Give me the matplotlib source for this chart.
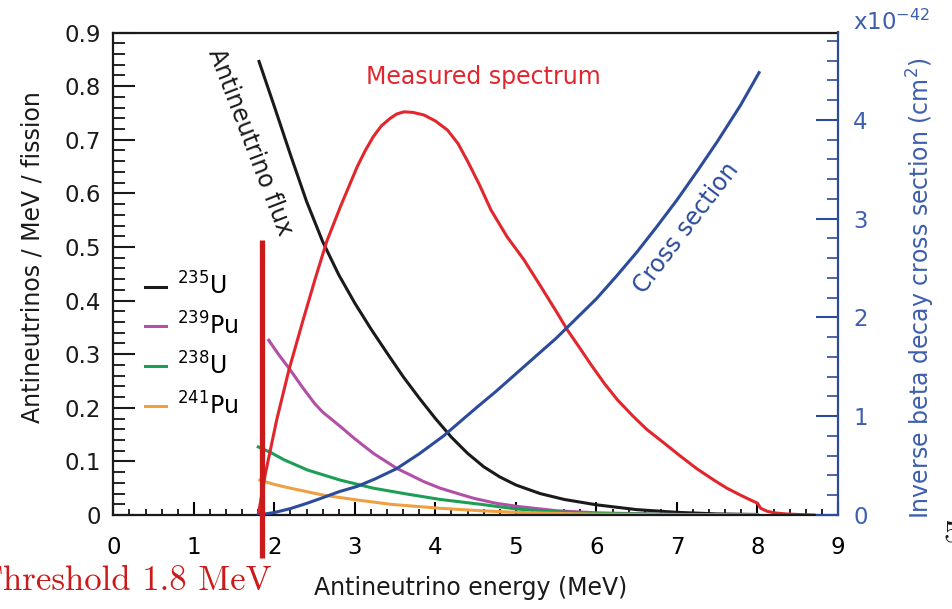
import matplotlib
matplotlib.use("Agg")
import matplotlib.pyplot as plt
from matplotlib.ticker import MultipleLocator, FuncFormatter

# ---------------- data ----------------
energy_u235 = [1.81, 2.00, 2.20, 2.40, 2.60, 2.80, 3.00, 3.20, 3.40, 3.60, 3.80, 4.00, 4.20, 4.40, 4.60, 4.80,
               5.00, 5.30, 5.60, 6.00, 6.50, 7.00, 7.50, 8.00]
flux_u235 = [0.846, 0.762, 0.672, 0.585, 0.510, 0.448, 0.395, 0.347, 0.302, 0.258, 0.218, 0.180, 0.145, 0.115,
             0.090, 0.071, 0.056, 0.040, 0.029, 0.019, 0.010, 0.005, 0.002, 0.001]

energy_pu239 = [1.93, 2.05, 2.20, 2.35, 2.50, 2.60, 2.82, 3.00, 3.23, 3.52, 3.86, 4.06, 4.30, 4.48, 4.75, 5.02,
                5.50, 6.00, 7.00, 8.00]
flux_pu239 = [0.326, 0.300, 0.270, 0.238, 0.208, 0.192, 0.165, 0.142, 0.115, 0.087, 0.062, 0.050, 0.039, 0.031,
              0.022, 0.016, 0.008, 0.004, 0.001, 0.0]

energy_u238 = [1.80, 1.95, 2.12, 2.41, 2.82, 3.23, 3.65, 4.06, 4.56, 5.02, 5.50, 6.00, 7.00, 8.00]
flux_u238 = [0.127, 0.117, 0.103, 0.084, 0.065, 0.050, 0.039, 0.029, 0.020, 0.011, 0.006, 0.003, 0.001, 0.0]

energy_pu241 = [1.82, 2.00, 2.20, 2.61, 3.03, 3.44, 4.06, 4.56, 5.00, 5.50, 6.00, 7.00, 8.00]
flux_pu241 = [0.065, 0.057, 0.050, 0.037, 0.028, 0.020, 0.0125, 0.008, 0.005, 0.003, 0.0015, 0.0005, 0.0]

energy_spec = [1.80, 1.89, 2.03, 2.18, 2.35, 2.51, 2.65, 2.82, 3.03, 3.13, 3.23, 3.33, 3.44, 3.52, 3.61, 3.72,
               3.86, 4.00, 4.15, 4.28, 4.40, 4.55, 4.69, 4.89, 5.10, 5.31, 5.50, 5.64, 5.80, 5.93, 6.10, 6.26,
               6.45, 6.63, 6.85, 7.05, 7.25, 7.46, 7.62, 7.79, 7.90, 8.00, 8.04, 8.12, 8.21, 8.35, 8.50, 8.70]
spectrum = [0.0, 0.078, 0.178, 0.270, 0.360, 0.442, 0.510, 0.575, 0.650, 0.680, 0.706, 0.726, 0.740, 0.748,
            0.752, 0.751, 0.746, 0.735, 0.718, 0.693, 0.660, 0.615, 0.569, 0.519, 0.476, 0.426, 0.380, 0.345,
            0.310, 0.281, 0.245, 0.215, 0.185, 0.159, 0.133, 0.109, 0.086, 0.065, 0.050, 0.037, 0.029, 0.022,
            0.0125, 0.007, 0.004, 0.002, 0.001, 0.0]

energy_xs = [1.80, 2.00, 2.20, 2.41, 2.60, 2.80, 3.03, 3.25, 3.52, 3.80, 4.10, 4.50, 4.75, 5.00, 5.25, 5.50,
             5.75, 6.00, 6.25, 6.50, 6.75, 7.00, 7.25, 7.50, 7.79, 8.02]
cross_section = [0.0, 0.025, 0.065, 0.12, 0.175, 0.235, 0.29, 0.365, 0.47, 0.62, 0.80, 1.08, 1.25, 1.43, 1.61,
                 1.79, 1.99, 2.19, 2.42, 2.66, 2.92, 3.19, 3.48, 3.78, 4.15, 4.48]

threshold_energy = [1.85, 1.85]
threshold_span = [0.513, -0.08]

isotope_labels = [r"$^{235}$U", r"$^{239}$Pu", r"$^{238}$U", r"$^{241}$Pu"]

# ---------------- styling ----------------
c_black = "#1a1a1a"
c_mag = "#b24fa6"
c_green = "#1d9e55"
c_orange = "#f0a044"
c_red = "#e2262d"
c_blue = "#2c4b9b"
c_blue_txt = "#3d5fae"
c_thr = "#cc1a1a"

plt.rcParams["font.family"] = ["DejaVu Sans"]

fig = plt.figure(figsize=(9.53, 6.09), dpi=100)
ax = fig.add_axes([113.3 / 953, 94 / 609, 724.7 / 953, 482.5 / 609])
ax2 = ax.twinx()

lw = 2.2
l1, = ax.plot(energy_u235, flux_u235, color=c_black, lw=lw, label=isotope_labels[0])
l2, = ax.plot(energy_pu239, flux_pu239, color=c_mag, lw=lw, label=isotope_labels[1])
l3, = ax.plot(energy_u238, flux_u238, color=c_green, lw=lw, label=isotope_labels[2])
l4, = ax.plot(energy_pu241, flux_pu241, color=c_orange, lw=lw, label=isotope_labels[3])
ax.plot(energy_spec, spectrum, color=c_red, lw=lw)
ax2.plot(energy_xs, cross_section, color=c_blue, lw=lw)
ax2.plot(threshold_energy, threshold_span, color=c_thr, lw=3.8, transform=ax.transData,
         clip_on=False, solid_capstyle="butt")

ax.set_xlim(0, 9)
ax.set_ylim(0, 0.9)
ax2.set_ylim(0, 4.886)

ax.xaxis.set_major_locator(MultipleLocator(1))
ax.xaxis.set_minor_locator(MultipleLocator(0.2))
ax.yaxis.set_major_locator(MultipleLocator(0.1))
ax.yaxis.set_minor_locator(MultipleLocator(0.02))
ax2.yaxis.set_major_locator(MultipleLocator(1))
ax2.yaxis.set_minor_locator(MultipleLocator(0.2))

ax.xaxis.set_major_formatter(FuncFormatter(lambda v, p: f"{v:.0f}"))
ax.yaxis.set_major_formatter(FuncFormatter(lambda v, p: "0" if abs(v) < 1e-9 else f"{v:.1f}"))
ax2.yaxis.set_major_formatter(FuncFormatter(lambda v, p: f"{v:.0f}"))

ax.tick_params(axis="y", which="major", direction="in", length=16, width=1.5, labelsize=16.5, pad=9,
               colors=c_black, right=False)
ax.tick_params(axis="y", which="minor", direction="in", length=8.5, width=1.2, right=False)
ax.tick_params(axis="x", which="major", direction="in", length=9.5, width=1.5, labelsize=16.5, pad=15, top=False)
ax.tick_params(axis="x", which="minor", direction="in", length=4.5, width=1.2, top=False)
ax2.tick_params(axis="y", which="major", direction="in", length=16, width=1.5, labelsize=16.5, pad=11,
                color=c_blue, labelcolor=c_blue_txt)
ax2.tick_params(axis="y", which="minor", direction="in", length=8, width=1.2, color=c_blue)

for s in ["left", "top", "bottom"]:
    ax.spines[s].set_linewidth(1.6)
    ax.spines[s].set_color(c_black)
    ax2.spines[s].set_visible(False)
ax.spines["right"].set_visible(False)
ax2.spines["right"].set_color(c_blue)
ax2.spines["right"].set_linewidth(1.6)

ax.set_xlabel("Antineutrino energy (MeV)", fontsize=17, color=c_black)
ax.xaxis.set_label_coords(0.493, -0.1264)
ax.set_ylabel("Antineutrinos / MeV / fission", fontsize=17, color=c_black)
ax.yaxis.set_label_coords(-0.0956, 0.535)
ax2.set_ylabel("Inverse beta decay cross section (cm$^2$)", fontsize=17, color=c_blue_txt)
ax2.yaxis.set_label_coords(1.0925, 0.4705)

ax.text(1.0207, 1.0218, r"x10$^{-42}$", transform=ax.transAxes, ha="left", va="center",
        fontsize=16.5, color=c_blue_txt)

ax.text(1.70, 0.696, "Antineutrino flux", rotation=-69, rotation_mode="anchor", ha="center", va="center",
        fontsize=17, color=c_black)
ax.text(4.60, 0.817, "Measured spectrum", ha="center", va="center", fontsize=17, color=c_red)
ax.text(7.12, 0.535, "Cross section", rotation=52.7, rotation_mode="anchor", ha="center", va="center",
        fontsize=17, color=c_blue)

leg = ax.legend(handles=[l1, l2, l3, l4], loc="upper left", bbox_to_anchor=(0.0437, 0.502),
                frameon=False, fontsize=17, handlelength=0.9, handletextpad=0.45, labelspacing=0.53,
                borderpad=0, borderaxespad=0)

fig.text(272 / 953, 19 / 609, "Threshold 1.8 MeV", ha="right", va="baseline", fontsize=25,
         family="cmr10", color=c_thr)
fig.text(944 / 953, 67 / 609, "5", ha="left", va="baseline", fontsize=22, family="cmr10", color=c_black)

fig.savefig("out.png", dpi=100)
